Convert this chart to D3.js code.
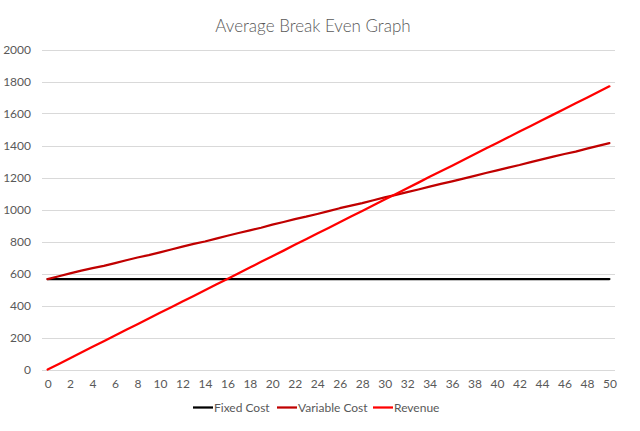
<!DOCTYPE html>
<html>
<head>
<meta charset="utf-8">
<script src="https://d3js.org/d3.v7.min.js"></script>
<style>
  body { margin: 0; background: #fff; }
  text { font-family: Lato, "Open Sans", sans-serif; fill: #595959; }
  .grid line { stroke: #d9d9d9; stroke-width: 1; }
</style>
</head>
<body>
<script>
// categories on the x axis (units)
var units = [0,1,2,3,4,5,6,7,8,9,10,11,12,13,14,15,16,17,18,19,20,21,22,23,24,25,
             26,27,28,29,30,31,32,33,34,35,36,37,38,39,40,41,42,43,44,45,46,47,48,49,50];

var fixedCost = [565,565,565,565,565,565,565,565,565,565,565,565,565,565,565,565,565,
                 565,565,565,565,565,565,565,565,565,565,565,565,565,565,565,565,565,
                 565,565,565,565,565,565,565,565,565,565,565,565,565,565,565,565,565];

var variableCost = [565,583,601,618,633,648,665,683,700,715,732,750,768,785,800,818,836,
                    853,870,886,905,922,940,955,972,990,1008,1024,1040,1058,1076,1092,1108,
                    1125,1143,1160,1176,1193,1210,1228,1245,1262,1278,1296,1313,1330,1347,
                    1362,1380,1398,1415];

var revenue = [0,35,71,106,142,177,212,248,283,319,354,389,425,460,496,531,566,602,637,
               673,708,743,779,814,850,885,920,956,991,1027,1062,1097,1133,1168,1204,1239,
               1274,1310,1345,1381,1416,1451,1487,1522,1558,1593,1628,1664,1699,1735,1770];

var yTicks = [0,200,400,600,800,1000,1200,1400,1600,1800,2000];

var seriesNames = ["Fixed Cost", "Variable Cost", "Revenue"];
var seriesColors = ["#000000", "#c00000", "#ff0000"];

var width = 640, height = 431;
var plotLeft = 42, plotRight = 615, plotTop = 49.5, plotBottom = 369.5;

var svg = d3.select("body").append("svg")
    .attr("width", width)
    .attr("height", height);

var x = d3.scalePoint()
    .domain(units)
    .range([plotLeft, plotRight])
    .padding(0.5);

var y = d3.scaleLinear()
    .domain([0, 2000])
    .range([plotBottom, plotTop]);

// gridlines
svg.append("g").attr("class", "grid")
  .selectAll("line")
  .data(yTicks)
  .enter().append("line")
    .attr("x1", plotLeft).attr("x2", plotRight)
    .attr("y1", function (d) { return Math.round(y(d)) + 0.5; })
    .attr("y2", function (d) { return Math.round(y(d)) + 0.5; });

// y axis labels
var yAxis = d3.axisLeft(y).tickValues(yTicks).tickFormat(d3.format("d"))
    .tickSize(0).tickPadding(0);
svg.append("g")
    .attr("transform", "translate(31,0)")
    .call(yAxis)
    .call(function (g) { g.select(".domain").remove(); })
    .selectAll("text")
      .style("font-size", "12px")
      .attr("fill", "#595959");

// x axis labels, every other one
var xAxis = d3.axisBottom(x)
    .tickValues(units.filter(function (d) { return d % 2 === 0; }))
    .tickSize(0).tickPadding(0);
svg.append("g")
    .attr("transform", "translate(0,379)")
    .call(xAxis)
    .call(function (g) { g.select(".domain").remove(); })
    .selectAll("text")
      .style("font-size", "12px")
      .attr("fill", "#595959");

// lines
var series = [fixedCost, variableCost, revenue];
var line = d3.line()
    .x(function (d, i) { return x(units[i]); })
    .y(function (d) { return y(d); });

series.forEach(function (s, i) {
  svg.append("path")
    .datum(s)
    .attr("d", line)
    .attr("fill", "none")
    .attr("stroke", seriesColors[i])
    .attr("stroke-width", 2.25)
    .attr("stroke-linejoin", "round")
    .attr("stroke-linecap", "round");
});

// title
svg.append("text")
    .text("Average Break Even Graph")
    .attr("x", 313)
    .attr("y", 32)
    .attr("text-anchor", "middle")
    .style("font-size", "17px")
    .style("font-weight", 300);

// legend
var legendX = [193, 277, 373];
var legend = svg.append("g");
seriesNames.forEach(function (name, i) {
  legend.append("line")
    .attr("x1", legendX[i]).attr("x2", legendX[i] + 20)
    .attr("y1", 407.5).attr("y2", 407.5)
    .attr("stroke", seriesColors[i])
    .attr("stroke-width", 2.25);
  legend.append("text")
    .text(name)
    .attr("x", legendX[i] + 21)
    .attr("y", 411.5)
    .style("font-size", "12px");
});
</script>
</body>
</html>
